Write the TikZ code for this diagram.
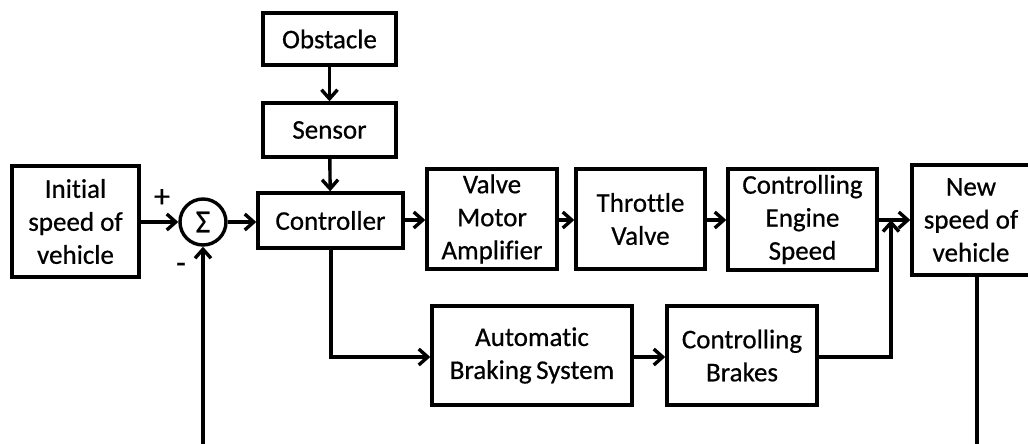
\documentclass[tikz,border=0pt]{standalone}
\usepackage{fontspec}
\setmainfont[Ligatures=NoCommon,FakeBold=0.6]{Carlito}
\usetikzlibrary{arrows.meta}
\begin{document}
\begin{tikzpicture}[x=1pt,y=-1pt,
  font=\fontsize{27}{33}\selectfont,
  blk/.style={draw, line width=3.4pt, inner sep=0pt, align=center,
    minimum width=#1},
  blk/.default=130pt,
  wire/.style={line width=3.4pt},
  flow/.style={wire, -{Straight Barb[length=9pt,width=16pt,line width=3.4pt]}},
  sumpt/.style={draw, circle, line width=3.4pt, minimum size=46pt, inner sep=0pt,
    font=\fontsize{32}{36}\selectfont}]
\clip (0,0) rectangle (1028,444);
\fill[white] (0,0) rectangle (1028,444);

% blocks
\node[blk=133pt, minimum height=52pt] (obst) at (329.5,39) {Obstacle};
\node[blk=133pt, minimum height=54pt] (sens) at (329.5,130) {Sensor};
\node[blk=145pt, minimum height=55pt] (ctrl) at (330.5,220.5) {Controller};
\node[blk=127pt, minimum height=111pt] (init) at (75.5,221.5) {Initial\\speed of\\vehicle};
\node[sumpt] (sum) at (203,222) {Σ};
\node[blk=130pt, minimum height=100pt] (vma) at (492,219) {Valve\\Motor\\Amplifier};
\node[blk=129pt, minimum height=100pt] (thr) at (640.5,219) {Throttle\\Valve};
\node[blk=149pt, minimum height=101pt] (eng) at (802.5,219.5) {Controlling\\Engine\\Speed};
\node[blk=118pt, minimum height=110pt] (newv) at (971,220) {New\\speed of\\vehicle};
\node[blk=200pt, minimum height=99pt] (abs) at (532,355.5) {Automatic\\Braking\,System};
\node[blk=150pt, minimum height=99pt] (brk) at (742,355.5) {Controlling\\Brakes};

% signs at the summing junction
\node[font=\fontsize{32}{36}\selectfont] (plus) at (162,198) {+};
\node[font=\fontsize{32}{36}\selectfont] (minus) at (181,268) {-};

% junction points
\coordinate (mix) at (891,220);
\coordinate (tap) at (331,357);
\coordinate (fbl) at (977,470);

% forward path
\draw[flow] (obst) -- (sens);
\draw[flow] (sens) -- (ctrl);
\draw[flow] (init.east |- sum.west) -- (sum.west);
\draw[flow] (sum.east) -- (ctrl.west |- sum.east);
\draw[flow] (ctrl.east |- 0,220) -- (vma.west |- 0,220);
\draw[flow] (vma.east |- 0,220) -- (thr.west |- 0,220);
\draw[flow] (thr.east |- 0,220) -- (eng.west |- 0,220);
\draw[flow] (eng.east |- mix) -- (newv.west |- mix);

% braking branch
\draw[flow] (ctrl.south -| tap) -- (tap) -- (abs.west |- tap);
\draw[flow] (abs.east |- tap) -- (brk.west |- tap);
\draw[flow] (brk.east |- tap) -| (mix);

% feedback loop
\draw[flow] (newv.south -| fbl) -- (fbl) -| (sum.south);
\end{tikzpicture}
\end{document}
